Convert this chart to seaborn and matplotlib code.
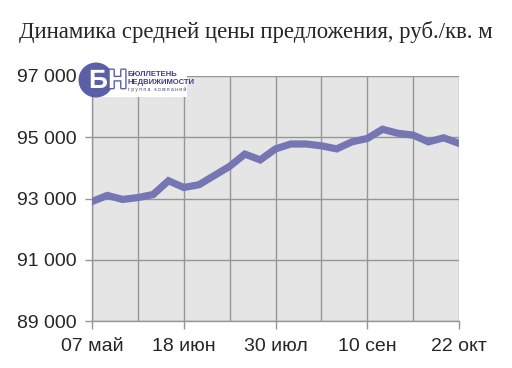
import matplotlib
matplotlib.use("Agg")
import matplotlib.pyplot as plt
import matplotlib.patheffects as pe
import seaborn as sns
import pandas as pd
from matplotlib.patches import Circle, Rectangle

# ---- data ----
weeks = list(range(25))  # weekly observations, 07 May .. 22 Oct
prices = [92900, 93100, 92970, 93030, 93130, 93580, 93360, 93450, 93750, 94050,
          94450, 94260, 94620, 94780, 94780, 94720, 94620, 94850, 94960, 95260,
          95130, 95070, 94850, 94980, 94800]
xtick_pos = [0, 6, 12, 18, 24]
xtick_labels = ["07 май", "18 июн", "30 июл", "10 сен", "22 окт"]
ytick_vals = [89000, 91000, 93000, 95000, 97000]
ytick_labels = ["89 000", "91 000", "93 000", "95 000", "97 000"]
title = "Динамика средней цены предложения, руб./кв. м"

df = pd.DataFrame({"week": weeks, "price": prices})

sns.set_style("white")
plt.rcParams["font.family"] = ["Liberation Sans", "DejaVu Sans"]

fig = plt.figure(figsize=(5.12, 3.68), dpi=100)
ax = fig.add_axes([92/512, 1-321/368, (459-92)/512, (321-76)/368])
ax.set_facecolor("#e5e5e5")

sns.lineplot(data=df, x="week", y="price", ax=ax, color="#7676b4",
             linewidth=5.2, solid_joinstyle="miter", zorder=3)

ax.set_xlim(0, 24)
ax.set_ylim(89000, 97000)
ax.set_xticks(xtick_pos)
ax.set_xticklabels(xtick_labels, fontsize=14)
ax.set_xticks([3, 9, 15, 21], minor=True)
ax.set_yticks(ytick_vals)
ax.set_yticklabels(ytick_labels, fontsize=14)
ax.set_xlabel("")
ax.set_ylabel("")
ax.grid(True, which="both", color="#969696", linewidth=1.0, zorder=1)
ax.tick_params(axis="x", which="major", length=6, width=1, color="#969696",
               direction="out", pad=6, bottom=True)
ax.tick_params(axis="x", which="minor", length=0)
ax.tick_params(axis="y", which="major", length=5, width=1, color="#969696",
               direction="out", pad=6, left=True)
for s in ["top", "right"]:
    ax.spines[s].set_visible(False)
for s in ["left", "bottom"]:
    ax.spines[s].set_color("#969696")
    ax.spines[s].set_linewidth(1.0)

fig.text(0.5, 1-32/368, title, ha="center", va="center", fontsize=16.4,
         family=["Liberation Serif", "DejaVu Serif"])

# logo (pixel -> inch coordinates)
def ix(px): return px / 100
def iy(py): return (368 - py) / 100
tr = fig.dpi_scale_trans
fig.patches.append(Rectangle((ix(76), iy(97)), (187-76)/100, 40/100,
                             transform=tr, facecolor="white",
                             edgecolor="none", zorder=5))
fig.patches.append(Circle((ix(96), iy(80)), 0.175, transform=tr,
                          facecolor="#5b5fa8", edgecolor="none", zorder=6))
fig.text(ix(108), iy(81), "БН", transform=tr, ha="center", va="center",
         fontsize=19, fontweight="bold", color="white", zorder=7,
         path_effects=[pe.withStroke(linewidth=2, foreground="#5b5fa8")])
fig.text(ix(127), iy(75), "БЮЛЛЕТЕНЬ", transform=tr, ha="left", va="center",
         fontsize=5.5, fontweight="bold", color="#3a3f8a", zorder=7)
fig.text(ix(127), iy(82), "НЕДВИЖИМОСТИ", transform=tr, ha="left", va="center",
         fontsize=5.5, fontweight="bold", color="#3a3f8a", zorder=7)
fig.text(ix(128), iy(89), "г р у п п а   к о м п а н и й", transform=tr,
         ha="left", va="center", fontsize=3.5, color="#3a3f8a", zorder=7)

fig.savefig("out.png", dpi=100)
